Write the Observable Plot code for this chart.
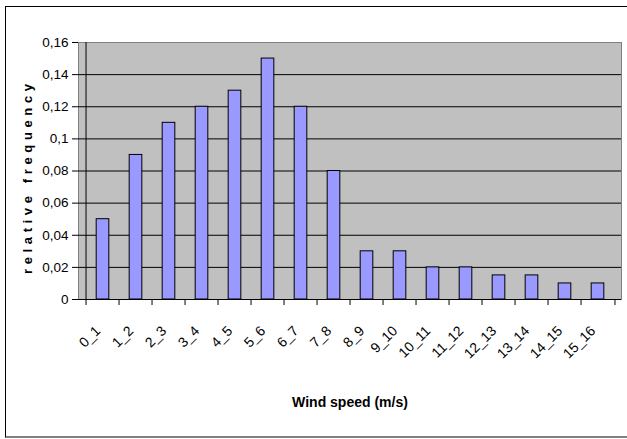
<!DOCTYPE html>
<html>
<head>
<meta charset="utf-8">
<script src="https://cdn.jsdelivr.net/npm/d3@7"></script>
<script src="https://cdn.jsdelivr.net/npm/@observablehq/plot@0.6"></script>
<style>
  html, body { margin: 0; padding: 0; background: #fff; }
  #wrap { position: relative; width: 627px; height: 439px; overflow: hidden; }
  #box { position: absolute; left: 5px; top: 6px; width: 640px; height: 429px;
         border: 1px solid #000; border-bottom: 2px solid #808080; }
  #chart { position: absolute; left: 0; top: 0; }
</style>
</head>
<body>
<div id="wrap"><div id="box"></div><div id="chart"></div></div>
<script>
// Wind speed classes (m/s) and their relative frequencies
const classes = ["0_1","1_2","2_3","3_4","4_5","5_6","6_7","7_8",
                 "8_9","9_10","10_11","11_12","12_13","13_14","14_15","15_16"];
const frequency = [0.05, 0.09, 0.11, 0.12, 0.13, 0.15, 0.12, 0.08,
                   0.03, 0.03, 0.02, 0.02, 0.015, 0.015, 0.01, 0.01];
const yTicks = [0, 0.02, 0.04, 0.06, 0.08, 0.1, 0.12, 0.14, 0.16];
const gridLines = [0.02, 0.04, 0.06, 0.08, 0.1, 0.12, 0.14];
const xTitle = "Wind speed (m/s)";
const yTitle = "relative frequency";

const data = classes.map((c, i) => ({cls: c, f: frequency[i]}));

const W = 627, H = 439;
const mL = 78, mR = 6, mT = 42, mB = 140;
const band = (W - mL - mR) / classes.length;
const barInset = band * 0.3;

const fmt = d => String(+d.toFixed(2)).replace(".", ",");

const chart = Plot.plot({
  width: W,
  height: H,
  marginLeft: mL,
  marginRight: mR,
  marginTop: mT,
  marginBottom: mB,
  style: {fontFamily: "'Liberation Sans', Arial, sans-serif", fontSize: "13px", color: "#000", background: "transparent"},
  x: {type: "band", domain: classes, padding: 0},
  y: {domain: [0, 0.16]},
  marks: [
    // plot area background
    Plot.frame({fill: "#C0C0C0", stroke: "#808080", strokeWidth: 1}),
    // horizontal gridlines
    Plot.ruleY(gridLines, {stroke: "#000", strokeWidth: 1}),
    // bars
    Plot.barY(data, {x: "cls", y: "f", fill: "#9999FF", stroke: "#000", strokeWidth: 1,
                     insetLeft: barInset, insetRight: barInset}),
    // axis lines
    Plot.ruleY([0], {stroke: "#000"}),
    Plot.ruleX([classes[0]], {dx: -band / 2, stroke: "#000"}),
    // category boundary ticks below the axis
    Plot.ruleX(classes, {x: d => d, y1: 0, y2: 0, insetBottom: -6, dx: -band / 2, stroke: "#000"}),
    Plot.ruleX([classes[classes.length - 1]], {y1: 0, y2: 0, insetBottom: -6, dx: band / 2, stroke: "#000"}),
    Plot.axisY({ticks: yTicks, tickFormat: fmt, tickSize: 6, tickPadding: 4, label: null, fontSize: 13.5}),
    Plot.axisX({tickSize: 0, tickPadding: 29, tickRotate: -45, label: null, fontSize: 14, dx: -5}),
    // axis titles
    Plot.text([xTitle], {frameAnchor: "bottom", dy: 107, fontWeight: "bold", fontSize: 14}),
    Plot.text([yTitle], {frameAnchor: "left", textAnchor: "middle", dx: -51, dy: 8, rotate: -90,
                         fontWeight: "bold", fontSize: 13})
  ]
});

// spread the vertical title's letters over its full length
d3.select(chart).selectAll("text").filter(function() { return this.textContent === yTitle; })
  .attr("textLength", 190).attr("lengthAdjust", "spacing");

document.getElementById("chart").appendChild(chart);
</script>
</body>
</html>
